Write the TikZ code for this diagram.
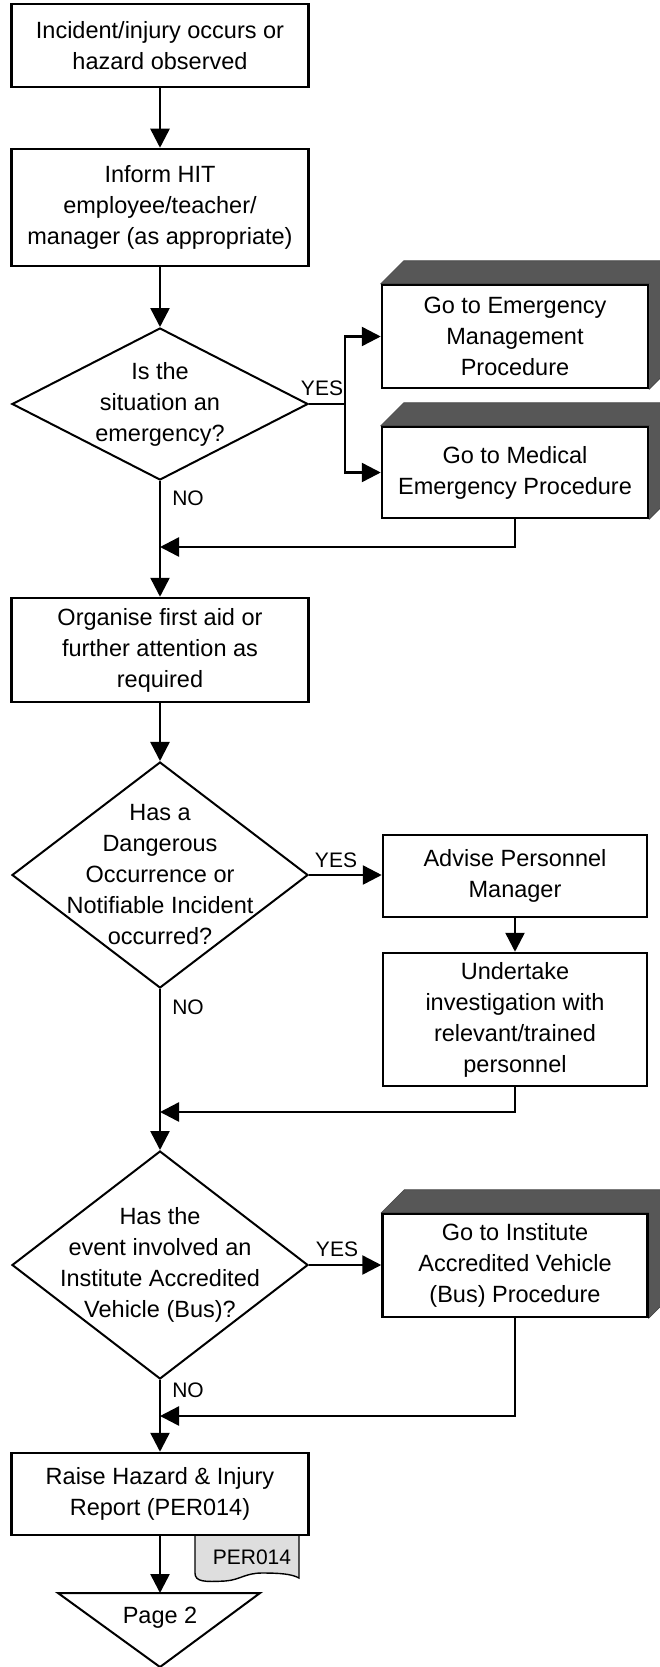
\documentclass[tikz,border=0pt]{standalone}
\usepackage{fontspec}
\setmainfont{Liberation Sans}
\usetikzlibrary{shapes.geometric,arrows.meta,backgrounds}
\newcommand\mainfnt{\fontsize{23.5}{31}\selectfont}
\newcommand\lblfnt{\fontsize{21}{25}\selectfont}
\begin{document}
\begin{tikzpicture}[x=1pt,y=-1pt,
  box/.style={draw, line width=2.5pt, fill=white, align=center, inner sep=0pt, font=\mainfnt},
  dia/.style={draw, diamond, line width=2pt, inner sep=0pt, fill=white},
  dtxt/.style={align=center, font=\mainfnt, inner sep=0pt},
  arr/.style={line width=2.5pt, -{Triangle[length=19pt,width=19pt]}},
  ln/.style={line width=2.5pt},
  lbl/.style={font=\lblfnt, inner sep=0pt},
  shadethree/.style={fill=black!66, draw=black!75, line width=0.6pt},
  docshape/.style={fill=black!13, draw=black, line width=1.4pt},
]
\useasboundingbox (0,0) rectangle (660,1667);
\clip (0,0) rectangle (660,1667);

% main column
\node[box, minimum width=297pt, minimum height=83pt] (b1) at (160,45.5) {Incident/injury occurs or\\hazard observed};
\node[box, minimum width=297pt, minimum height=117pt] (b2) at (160,207.5) {Inform HIT\\employee/teacher/\\manager (as appropriate)};
\node[dia, minimum width=296pt, minimum height=152pt,
      label={[dtxt]center:{Is the\\situation an\\emergency?}}] (d1) at (160,404) {};
\node[box, minimum width=297pt, minimum height=104pt] (b3) at (160,650) {Organise first aid or\\further attention as\\required};
\node[dia, minimum width=296pt, minimum height=226pt,
      label={[dtxt]center:{Has a\\Dangerous\\Occurrence or\\Notifiable Incident\\occurred?}}] (d2) at (160,875) {};
\node[dia, minimum width=296pt, minimum height=228pt,
      label={[dtxt]center:{Has the\\event involved an\\Institute Accredited\\Vehicle (Bus)?}}] (d3) at (160,1265) {};

% document symbol (behind report box)
\filldraw[docshape] (195,1530) -- (195,1573) .. controls (195,1582) and (205,1582) .. (225,1581)
   .. controls (240,1580) and (245,1573) .. (262,1573)
   .. controls (280,1573) and (292,1574) .. (299,1578) -- (299,1530) -- cycle;
\node[lbl] (doc) at (252,1557) {PER014};
\node[box, minimum width=297pt, minimum height=82pt] (r1) at (160,1494) {Raise Hazard \& Injury\\Report (PER014)};

% right column
\node[box, minimum width=266pt, minimum height=103pt] (e1) at (515,336.5) {Go to Emergency\\Management\\Procedure};
\node[box, minimum width=266pt, minimum height=91pt] (e2) at (515,472.5) {Go to Medical\\Emergency Procedure};
\node[box, minimum width=264pt, minimum height=82pt] (a1) at (515,876) {Advise Personnel\\Manager};
\node[box, minimum width=264pt, minimum height=133pt] (u1) at (515,1019.5) {Undertake\\investigation with\\relevant/trained\\personnel};
\node[box, minimum width=265pt, minimum height=103pt] (bus) at (515,1265.5) {Go to Institute\\Accredited Vehicle\\(Bus) Procedure};

% 3D faces
\begin{pgfonlayer}{background}
\foreach \n in {e1,e2,bus} {
  \filldraw[shadethree] (\n.north west) -- ([shift={(23,-23)}]\n.north west)
     -- ([shift={(23,-23)}]\n.north east) -- ([shift={(23,-23)}]\n.south east)
     -- (\n.south east) -- (\n.north east) -- cycle;
}
\end{pgfonlayer}

% off-page connector
\node[dtxt] (p2) at (160,1618) {Page 2};
\coordinate (p2top) at (160,1593);
\draw[line width=2pt] (58,1593) -- (260,1593) -- (160,1667) -- cycle;

% connectors
\draw[arr] (b1) -- (b2);
\draw[arr] (b2) -- (d1);
\coordinate (j1) at (345,404);
\draw[ln] (d1.east) -- (j1);
\draw[arr] (j1) |- (e1.west);
\draw[arr] (j1) |- (e2.west);
\node[lbl] (yes1) at (322,388) {YES};
\coordinate (m1) at (160,547);
\draw[arr] (e2.south) |- (m1);
\draw[arr] (d1.south) -- (b3.north);
\node[lbl] (no1) at (188,498) {NO};

\draw[arr] (b3) -- (d2);
\draw[arr] (d2.east) -- (d2.east -| a1.west);
\node[lbl] (yes2) at (336,860) {YES};
\draw[arr] (a1) -- (u1);
\coordinate (m2) at (160,1112);
\draw[arr] (u1.south) |- (m2);
\draw[arr] (d2.south) -- (d3.north);
\node[lbl] (no2) at (188,1007) {NO};

\draw[arr] (d3.east) -- (d3.east -| bus.west);
\node[lbl] (yes3) at (337,1249) {YES};
\coordinate (m3) at (160,1416);
\draw[arr] (bus.south) |- (m3);
\draw[arr] (d3.south) -- (r1.north);
\node[lbl] (no3) at (188,1390) {NO};

\draw[arr] (r1.south) -- (p2top);
\end{tikzpicture}
\end{document}
